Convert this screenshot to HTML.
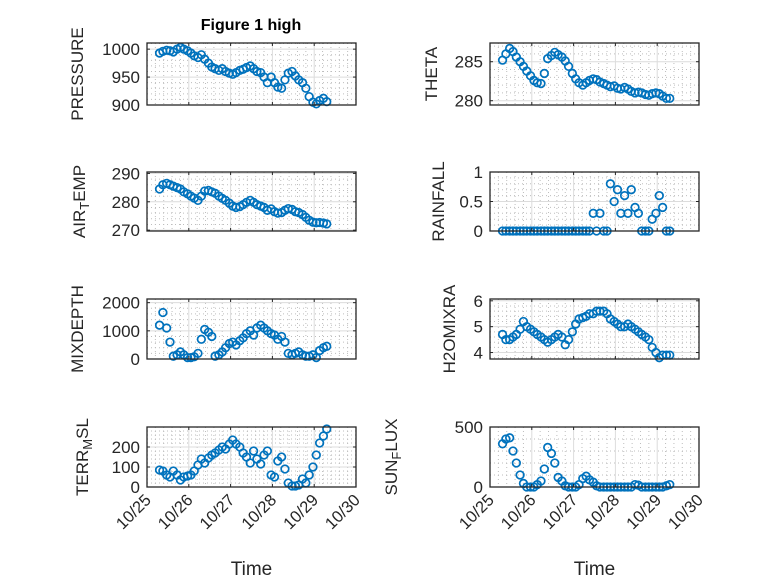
<!DOCTYPE html>
<html><head><meta charset="utf-8"><style>
body{margin:0;background:#fff;}
svg{display:block;font-family:"Liberation Sans",sans-serif;}
</style></head><body>
<svg id="fig" width="778" height="583" viewBox="0 0 778 583" xmlns="http://www.w3.org/2000/svg">
<rect width="778" height="583" fill="#fff"/>
<text x="251" y="30" text-anchor="middle" font-size="16" font-weight="bold" fill="#000">Figure 1 high</text>
</svg>
<script>
const days = [0.30,0.38,0.47,0.55,0.63,0.72,0.80,0.88,0.97,1.05,1.13,1.22,1.30,1.38,1.47,1.55,1.63,1.72,1.80,1.88,1.97,2.05,2.13,2.22,2.30,2.38,2.47,2.55,2.63,2.72,2.80,2.88,2.97,3.05,3.13,3.22,3.30,3.38,3.47,3.55,3.63,3.72,3.80,3.88,3.97,4.05,4.13,4.22,4.30];
const xTickLabels = ["10/25","10/26","10/27","10/28","10/29","10/30"];
const pressure = [993,996,998,997,995,1000,1003,1000,997,993,988,985,990,982,975,968,965,962,965,960,957,955,958,962,964,967,970,965,960,958,950,940,950,940,932,930,945,957,960,952,945,940,930,915,905,902,908,912,906];
const theta = [285.2,286,286.7,286.3,285.6,285,284.4,283.8,283.2,282.6,282.3,282.2,283.5,285.4,285.8,286.2,285.9,285.6,285.1,284.4,283.5,282.8,282.3,282,282.3,282.6,282.8,282.7,282.4,282.2,282,281.8,281.9,281.6,281.5,281.7,281.5,281.2,281.0,281.1,281.0,280.8,280.7,280.9,281.0,280.9,280.6,280.3,280.3];
const airTemp = [284.5,286,286.5,286,285.5,285,284.5,283.5,282.8,282,281.3,280.5,282,283.8,284,283.5,283,282,281.2,280.5,279.5,278.5,278,278.3,279,279.8,280.5,279.8,279,278.5,278,277,277.5,276.5,276,276.2,277,277.6,277.3,276.5,276.2,275.5,274.5,273.5,272.8,272.6,272.7,272.5,272.2];
const rainfall = [0,0,0,0,0,0,0,0,0,0,0,0,0,0,0,0,0,0,0,0,0,0,0,0,0,0,0.3,0,0.3,0,0,0.8,0.5,0.7,0.3,0.6,0.3,0.7,0.4,0.3,0,0,0,0.2,0.3,0.6,0.4,0,0];
const mixDepth = [1200,1650,1100,600,100,150,250,150,50,50,80,200,700,1050,950,800,100,150,250,400,550,600,500,650,750,900,1000,850,1100,1200,1100,1000,900,850,700,800,600,200,150,200,250,150,100,100,150,50,300,400,450];
const h2oMix = [4.7,4.5,4.5,4.6,4.7,4.9,5.2,5.0,4.9,4.8,4.7,4.6,4.5,4.4,4.5,4.6,4.7,4.6,4.3,4.5,4.8,5.1,5.3,5.35,5.4,5.5,5.5,5.6,5.6,5.6,5.5,5.3,5.2,5.1,5.0,5.0,5.1,5.0,4.9,4.8,4.7,4.6,4.5,4.2,4.0,3.8,3.9,3.9,3.9];
const terrMsl = [85,80,60,50,80,60,35,50,55,60,80,110,140,120,145,160,170,185,200,190,215,235,215,200,170,150,120,180,140,115,160,180,60,50,130,150,90,20,5,5,10,40,20,60,100,160,220,255,290];
const sunFlux = [360,400,410,300,200,100,30,0,0,0,20,50,150,330,280,200,80,50,10,0,0,0,20,70,90,60,40,10,0,0,0,0,0,0,0,0,0,0,20,15,0,0,0,0,0,0,0,10,20];
const pressureTicks = [900,950,1000];
const thetaTicks = [280,285];
const airTicks = [270,280,290];
const rainTicks = [0,0.5,1];
const rainTickLabels = ["0","0.5","1"];
const mixTicks = [0,1000,2000];
const h2oTicks = [4,5,6];
const terrTicks = [0,100,200];
const sunTicks = [0,500];

const NS = "http://www.w3.org/2000/svg";
const svg = document.getElementById('fig');
function mk(tag, attrs, parent){const e=document.createElementNS(NS,tag);for(const k in attrs)e.setAttribute(k,attrs[k]);(parent||svg).appendChild(e);return e;}

function panel(name, x0, x1, y0, y1, ymin, ymax, ticks, tickLabels, values, labelParts, labelX, bottom){
  const g = mk('g',{});
  
  
  const sx = d => x0 + (d/5)*(x1-x0);
  const sy = v => y1 - (v-ymin)/(ymax-ymin)*(y1-y0);
  for(let d=0; d<=5.001; d+=0.2){ if(Math.abs(d-Math.round(d))<1e-6) continue;
    mk('line',{x1:sx(d),x2:sx(d),y1:y0,y2:y1,stroke:'#bdbdbd','stroke-width':1,'stroke-dasharray':'1 3'},g);}
  const step = ticks[1]-ticks[0];
  for(let v=ticks[0]-step; v<=ymax; v+=step/5){ if(v<=ymin||v>=ymax) continue;
    if(ticks.some(t=>Math.abs(t-v)<step*1e-3)) continue;
    mk('line',{x1:x0,x2:x1,y1:sy(v),y2:sy(v),stroke:'#bdbdbd','stroke-width':1,'stroke-dasharray':'1 3'},g);}
  for(let d=1; d<5; d++) mk('line',{x1:sx(d),x2:sx(d),y1:y0,y2:y1,stroke:'#dcdcdc','stroke-width':1},g);
  ticks.forEach(t=>{ if(t>ymin+1e-9 && t<ymax-1e-9) mk('line',{x1:x0,x2:x1,y1:sy(t),y2:sy(t),stroke:'#dcdcdc','stroke-width':1},g);});
  values.forEach((v,i)=>{
    const c = mk('circle',{cx:sx(days[i]),cy:sy(v),r:3.8,fill:'none',stroke:'#0072BD','stroke-width':1.7},g);
    
    
  });
  mk('rect',{x:x0,y:y0,width:x1-x0,height:y1-y0,fill:'none',stroke:'#262626','stroke-width':1.3},g);
  for(let d=0; d<=5; d++){
    mk('line',{x1:sx(d),x2:sx(d),y1:y1,y2:y1-3,stroke:'#262626'},g);
    mk('line',{x1:sx(d),x2:sx(d),y1:y0,y2:y0+3,stroke:'#262626'},g);
    if(bottom){
      const t = mk('text',{x:sx(d)+5,y:y1+14,'text-anchor':'end','font-size':16.5,fill:'#262626',transform:'rotate(-45 '+(sx(d)+5)+' '+(y1+14)+')'},g);
      t.textContent = xTickLabels[d];
      
      
    }
  }
  ticks.forEach((t,i)=>{
    mk('line',{x1:x0,x2:x0+3,y1:sy(t),y2:sy(t),stroke:'#262626'},g);
    mk('line',{x1:x1,x2:x1-3,y1:sy(t),y2:sy(t),stroke:'#262626'},g);
    const tx = mk('text',{x:x0-7,y:sy(t)+6,'text-anchor':'end','font-size':17,fill:'#262626'},g);
    tx.textContent = tickLabels[i];
    
    
  });
  const cy = (y0+y1)/2;
  const lab = mk('text',{x:labelX,y:cy,'text-anchor':'middle','font-size':17,fill:'#262626',transform:'rotate(-90 '+labelX+' '+cy+')'},g);
  
  
  labelParts.forEach(p=>{
    const ts = mk('tspan',{},lab);
    if(p.sub){ ts.setAttribute('baseline-shift','-30%'); ts.setAttribute('font-size','13'); }
    ts.textContent = p.t;
  });
  if(bottom){
    const tl = mk('text',{x:(x0+x1)/2,y:575,'text-anchor':'middle','font-size':19,fill:'#262626'},g);
    tl.textContent = 'Time';
    
    
  }
}
const L0=147,L1=356,R0=490,R1=699;
panel('pressure',L0,L1,43,105,900,1011,pressureTicks,pressureTicks.map(String),pressure,[{t:'PRESSURE'}],83,false);
panel('theta',R0,R1,43,105,279.45,287.4,thetaTicks,thetaTicks.map(String),theta,[{t:'THETA'}],437,false);
panel('air-temp',L0,L1,172,231,269.7,290.5,airTicks,airTicks.map(String),airTemp,[{t:'AIR'},{t:'T',sub:true},{t:'EMP'}],85,false);
panel('rainfall',R0,R1,172,231,0,1,rainTicks,rainTickLabels,rainfall,[{t:'RAINFALL'}],444,false);
panel('mixdepth',L0,L1,299,359,0,2130,mixTicks,mixTicks.map(String),mixDepth,[{t:'MIXDEPTH'}],83,false);
panel('h2omixra',R0,R1,299,359,3.75,6.07,h2oTicks,h2oTicks.map(String),h2oMix,[{t:'H2OMIXRA'}],455,false);
panel('terr-msl',L0,L1,427,487,0,300,terrTicks,terrTicks.map(String),terrMsl,[{t:'TERR'},{t:'M',sub:true},{t:'SL'}],88,true);
panel('sun-flux',R0,R1,427,487,0,500,sunTicks,sunTicks.map(String),sunFlux,[{t:'SUN'},{t:'F',sub:true},{t:'LUX'}],397,true);
</script>
</body></html>
